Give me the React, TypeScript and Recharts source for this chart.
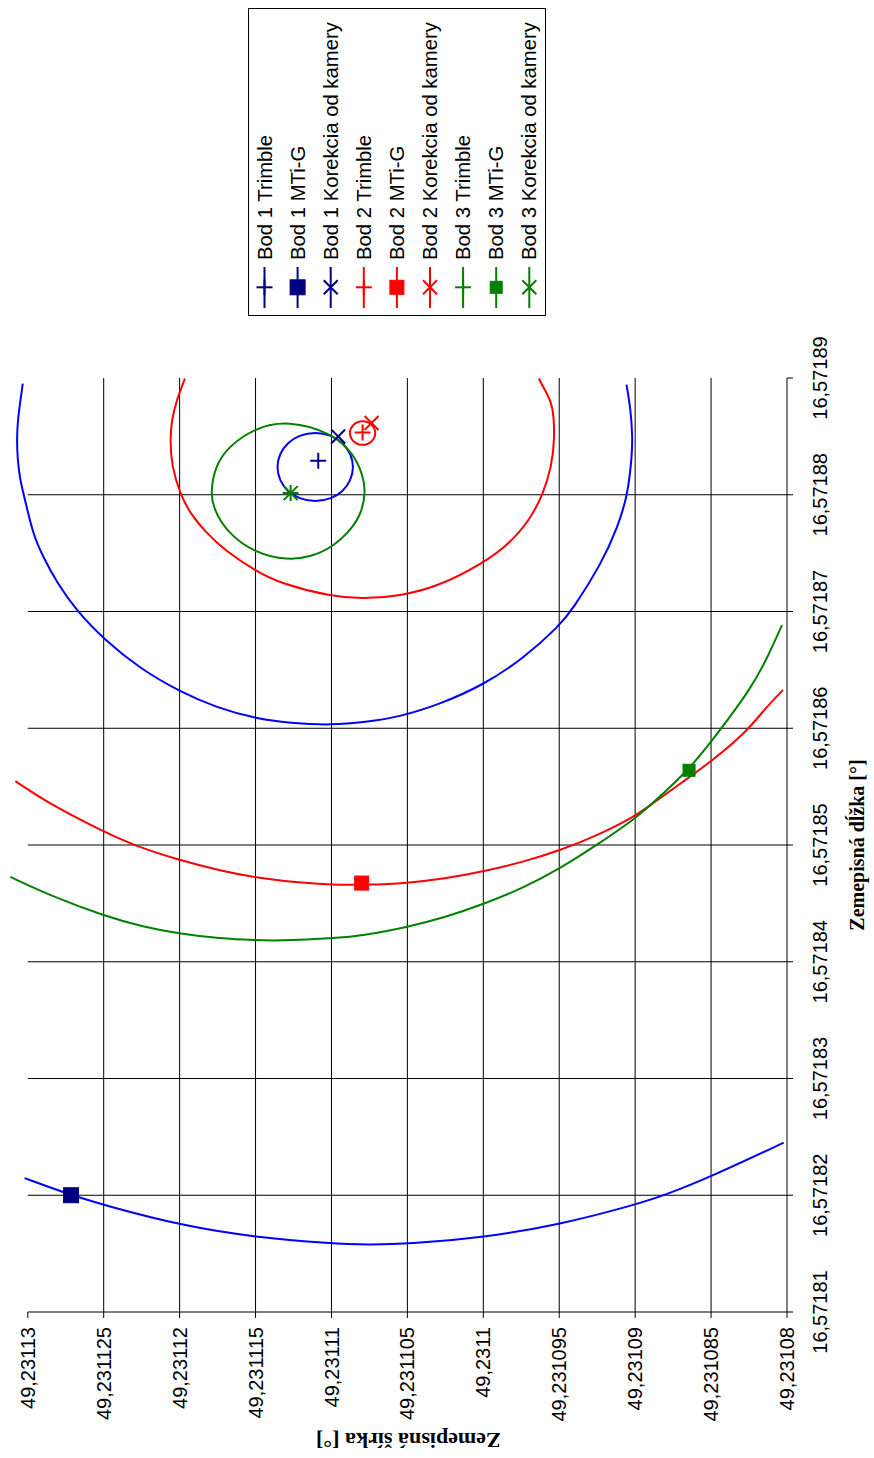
import React from 'react';
import { ComposedChart, Line, Scatter, XAxis, YAxis, ReferenceLine, Legend } from 'recharts';

// ---------- axis ticks ----------
const lonTicks = [16.57181, 16.57182, 16.57183, 16.57184, 16.57185, 16.57186, 16.57187, 16.57188, 16.57189];
const latTicks = [49.23108, 49.231085, 49.23109, 49.231095, 49.2311, 49.231105, 49.23111, 49.231115, 49.23112, 49.231125, 49.23113];
const lonGrid = [16.57182, 16.57183, 16.57184, 16.57185, 16.57186, 16.57187, 16.57188];
const latGrid = [49.231085, 49.23109, 49.231095, 49.2311, 49.231105, 49.23111, 49.231115, 49.23112, 49.231125];
const lonDomain = [16.57181, 16.57189];
const latDomain = [49.23108, 49.2311315];
const latFrame = [49.23108, 49.23113];

// ---------- curves ----------
const bod1ArcNorth = [
  { lon: 16.57188951, lat: 49.23113033 },
  { lon: 16.57188642, lat: 49.23113067 },
  { lon: 16.57188471, lat: 49.23113072 },
  { lon: 16.57188299, lat: 49.23113067 },
  { lon: 16.57188128, lat: 49.23113051 },
  { lon: 16.57187956, lat: 49.23113018 },
  { lon: 16.5718766, lat: 49.23112965 },
  { lon: 16.57187467, lat: 49.23112899 },
  { lon: 16.57187244, lat: 49.23112807 },
  { lon: 16.57187004, lat: 49.23112678 },
  { lon: 16.57186755, lat: 49.23112493 },
  { lon: 16.57186511, lat: 49.23112261 },
  { lon: 16.57186312, lat: 49.23111996 },
  { lon: 16.57186176, lat: 49.23111756 },
  { lon: 16.57186084, lat: 49.23111499 },
  { lon: 16.57186044, lat: 49.23111273 },
  { lon: 16.57186026, lat: 49.23110999 },
  { lon: 16.57186052, lat: 49.23110778 },
  { lon: 16.57186098, lat: 49.23110549 },
  { lon: 16.57186206, lat: 49.23110286 },
  { lon: 16.57186369, lat: 49.23110001 },
  { lon: 16.57186605, lat: 49.23109727 },
  { lon: 16.57186884, lat: 49.23109496 },
  { lon: 16.57187004, lat: 49.23109419 },
  { lon: 16.57187413, lat: 49.2310922 },
  { lon: 16.57187727, lat: 49.23109114 },
  { lon: 16.57188005, lat: 49.23109047 },
  { lon: 16.57188357, lat: 49.2310902 },
  { lon: 16.57188499, lat: 49.23109018 },
  { lon: 16.57188728, lat: 49.23109029 },
  { lon: 16.57188943, lat: 49.23109057 },
];

const bod1ArcSouth = [
  { lon: 16.57182147, lat: 49.23113021 },
  { lon: 16.57182, lat: 49.23112712 },
  { lon: 16.57181914, lat: 49.23112494 },
  { lon: 16.57181742, lat: 49.23111993 },
  { lon: 16.57181639, lat: 49.23111499 },
  { lon: 16.57181586, lat: 49.23110995 },
  { lon: 16.57181576, lat: 49.23110763 },
  { lon: 16.57181582, lat: 49.23110497 },
  { lon: 16.57181639, lat: 49.23109997 },
  { lon: 16.57181748, lat: 49.23109496 },
  { lon: 16.5718192, lat: 49.23108996 },
  { lon: 16.57182, lat: 49.23108805 },
  { lon: 16.57182162, lat: 49.23108496 },
  { lon: 16.5718245, lat: 49.23108022 },
];

const bod1Ring = [
  { lon: 16.57188537, lat: 49.23111107 },
  { lon: 16.57188511, lat: 49.23110999 },
  { lon: 16.57188446, lat: 49.23110925 },
  { lon: 16.57188353, lat: 49.23110872 },
  { lon: 16.57188237, lat: 49.23110852 },
  { lon: 16.57188121, lat: 49.23110872 },
  { lon: 16.57188027, lat: 49.23110925 },
  { lon: 16.57187965, lat: 49.23110999 },
  { lon: 16.57187937, lat: 49.23111107 },
  { lon: 16.57187965, lat: 49.23111214 },
  { lon: 16.57188027, lat: 49.23111289 },
  { lon: 16.57188121, lat: 49.23111342 },
  { lon: 16.57188237, lat: 49.23111362 },
  { lon: 16.57188353, lat: 49.23111342 },
  { lon: 16.57188446, lat: 49.23111289 },
  { lon: 16.57188511, lat: 49.23111214 },
];

const bod2ArcNorth = [
  { lon: 16.57188995, lat: 49.23111965 },
  { lon: 16.57188814, lat: 49.23112019 },
  { lon: 16.57188642, lat: 49.23112052 },
  { lon: 16.57188471, lat: 49.23112063 },
  { lon: 16.57188242, lat: 49.23112052 },
  { lon: 16.57188005, lat: 49.23111996 },
  { lon: 16.57187842, lat: 49.23111932 },
  { lon: 16.57187671, lat: 49.23111822 },
  { lon: 16.57187527, lat: 49.23111705 },
  { lon: 16.57187347, lat: 49.23111499 },
  { lon: 16.57187242, lat: 49.23111339 },
  { lon: 16.57187127, lat: 49.23110999 },
  { lon: 16.57187107, lat: 49.23110791 },
  { lon: 16.57187133, lat: 49.23110549 },
  { lon: 16.57187213, lat: 49.23110299 },
  { lon: 16.57187413, lat: 49.23110001 },
  { lon: 16.57187585, lat: 49.23109825 },
  { lon: 16.57187785, lat: 49.23109694 },
  { lon: 16.57188005, lat: 49.23109606 },
  { lon: 16.57188242, lat: 49.23109551 },
  { lon: 16.57188471, lat: 49.23109529 },
  { lon: 16.5718877, lat: 49.2310954 },
  { lon: 16.57188871, lat: 49.23109584 },
  { lon: 16.57188995, lat: 49.23109634 },
];

const bod2ArcSouth = [
  { lon: 16.57185547, lat: 49.23113082 },
  { lon: 16.57185344, lat: 49.23112847 },
  { lon: 16.5718511, lat: 49.23112494 },
  { lon: 16.57184992, lat: 49.23112292 },
  { lon: 16.57184867, lat: 49.23111993 },
  { lon: 16.57184783, lat: 49.23111738 },
  { lon: 16.5718472, lat: 49.23111499 },
  { lon: 16.5718468, lat: 49.23111234 },
  { lon: 16.57184658, lat: 49.23110995 },
  { lon: 16.57184658, lat: 49.2311078 },
  { lon: 16.57184674, lat: 49.23110497 },
  { lon: 16.57184711, lat: 49.2311026 },
  { lon: 16.57184773, lat: 49.23109997 },
  { lon: 16.57184861, lat: 49.23109721 },
  { lon: 16.57184954, lat: 49.23109496 },
  { lon: 16.57185079, lat: 49.23109251 },
  { lon: 16.5718525, lat: 49.23108996 },
  { lon: 16.57185344, lat: 49.23108898 },
  { lon: 16.57185547, lat: 49.2310868 },
  { lon: 16.57185718, lat: 49.23108496 },
  { lon: 16.57185977, lat: 49.2310826 },
  { lon: 16.57186183, lat: 49.23108136 },
  { lon: 16.57186327, lat: 49.23108026 },
];

const bod2Ring = [
  { lon: 16.5718864, lat: 49.23110795 },
  { lon: 16.57188607, lat: 49.2311073 },
  { lon: 16.57188528, lat: 49.23110703 },
  { lon: 16.57188449, lat: 49.2311073 },
  { lon: 16.57188417, lat: 49.23110795 },
  { lon: 16.57188449, lat: 49.2311086 },
  { lon: 16.57188528, lat: 49.23110887 },
  { lon: 16.57188607, lat: 49.2311086 },
];

const bod3ArcSouth = [
  { lon: 16.57184727, lat: 49.23113115 },
  { lon: 16.57184564, lat: 49.23112847 },
  { lon: 16.57184392, lat: 49.23112494 },
  { lon: 16.57184299, lat: 49.23112241 },
  { lon: 16.57184237, lat: 49.23111993 },
  { lon: 16.57184199, lat: 49.23111738 },
  { lon: 16.57184184, lat: 49.23111499 },
  { lon: 16.5718418, lat: 49.23111351 },
  { lon: 16.57184199, lat: 49.23110995 },
  { lon: 16.5718423, lat: 49.23110763 },
  { lon: 16.57184299, lat: 49.23110497 },
  { lon: 16.57184377, lat: 49.2311026 },
  { lon: 16.57184493, lat: 49.23109997 },
  { lon: 16.57184642, lat: 49.23109721 },
  { lon: 16.57184798, lat: 49.23109496 },
  { lon: 16.57185001, lat: 49.23109251 },
  { lon: 16.57185229, lat: 49.23108996 },
  { lon: 16.57185344, lat: 49.23108898 },
  { lon: 16.5718564, lat: 49.23108646 },
  { lon: 16.57185977, lat: 49.23108444 },
  { lon: 16.57186327, lat: 49.23108245 },
  { lon: 16.57186584, lat: 49.23108136 },
  { lon: 16.57186884, lat: 49.23108033 },
];

const bod3Ring = [
  { lon: 16.57188636, lat: 49.23111287 },
  { lon: 16.57188531, lat: 49.23110999 },
  { lon: 16.57188357, lat: 49.23110857 },
  { lon: 16.57188171, lat: 49.23110793 },
  { lon: 16.57188027, lat: 49.23110775 },
  { lon: 16.57187853, lat: 49.231108 },
  { lon: 16.57187716, lat: 49.23110859 },
  { lon: 16.57187542, lat: 49.23110999 },
  { lon: 16.57187467, lat: 49.23111142 },
  { lon: 16.57187439, lat: 49.23111287 },
  { lon: 16.57187497, lat: 49.23111499 },
  { lon: 16.57187677, lat: 49.2311169 },
  { lon: 16.57187888, lat: 49.2311178 },
  { lon: 16.57188027, lat: 49.23111795 },
  { lon: 16.57188239, lat: 49.23111767 },
  { lon: 16.57188411, lat: 49.23111682 },
  { lon: 16.57188576, lat: 49.23111499 },
];

// ---------- measured points ----------
const bod1Trimble = [{ lon: 16.57188291, lat: 49.23111087 }];
const bod1MtiG = [{ lon: 16.57182, lat: 49.23112715 }];
const bod1Korekcia = [{ lon: 16.57188499, lat: 49.23110956 }];
const bod2Trimble = [{ lon: 16.57188534, lat: 49.23110795 }];
const bod2MtiG = [{ lon: 16.57184674, lat: 49.23110801 }];
const bod2Korekcia = [{ lon: 16.57188614, lat: 49.23110736 }];
const bod3Trimble = [{ lon: 16.57188014, lat: 49.23111269 }];
const bod3MtiG = [{ lon: 16.5718564, lat: 49.23108645 }];
const bod3Korekcia = [{ lon: 16.57188014, lat: 49.23111269 }];

const NAVY = '#000080';
const RED = '#FF0000';
const GREEN = '#008000';
const BLUE = '#0000FF';

type Kind = 'plus' | 'square' | 'cross';

const pointSeries: { name: string; data: { lon: number; lat: number }[]; color: string; kind: Kind; size: number }[] = [
  { name: 'Bod 1 Trimble', data: bod1Trimble, color: NAVY, kind: 'plus', size: 16 },
  { name: 'Bod 1 MTi-G', data: bod1MtiG, color: NAVY, kind: 'square', size: 15 },
  { name: 'Bod 1 Korekcia od kamery', data: bod1Korekcia, color: NAVY, kind: 'cross', size: 14 },
  { name: 'Bod 2 Trimble', data: bod2Trimble, color: RED, kind: 'plus', size: 16 },
  { name: 'Bod 2 MTi-G', data: bod2MtiG, color: RED, kind: 'square', size: 14 },
  { name: 'Bod 2 Korekcia od kamery', data: bod2Korekcia, color: RED, kind: 'cross', size: 14 },
  { name: 'Bod 3 Trimble', data: bod3Trimble, color: GREEN, kind: 'plus', size: 16 },
  { name: 'Bod 3 MTi-G', data: bod3MtiG, color: GREEN, kind: 'square', size: 12 },
  { name: 'Bod 3 Korekcia od kamery', data: bod3Korekcia, color: GREEN, kind: 'cross', size: 14 },
];

const curves: { key: string; data: { lon: number; lat: number }[]; color: string; closed: boolean }[] = [
  { key: 'b1n', data: bod1ArcNorth, color: BLUE, closed: false },
  { key: 'b1s', data: bod1ArcSouth, color: BLUE, closed: false },
  { key: 'b1r', data: bod1Ring, color: BLUE, closed: true },
  { key: 'b2n', data: bod2ArcNorth, color: RED, closed: false },
  { key: 'b2s', data: bod2ArcSouth, color: RED, closed: false },
  { key: 'b2r', data: bod2Ring, color: RED, closed: true },
  { key: 'b3s', data: bod3ArcSouth, color: GREEN, closed: false },
  { key: 'b3r', data: bod3Ring, color: GREEN, closed: true },
];

const SANS = '"Liberation Sans", Arial, sans-serif';
const SERIF = '"Liberation Serif", "Times New Roman", serif';
const fmt = (v: number) => String(v).replace('.', ',');

function Glyph({ cx, cy, kind, color, size }: { cx: number; cy: number; kind: Kind; color: string; size: number }) {
  const h = size / 2;
  if (kind === 'square') {
    return <rect x={cx - h} y={cy - h} width={size} height={size} fill={color} stroke={color} strokeWidth={1} />;
  }
  if (kind === 'plus') {
    return (
      <g stroke={color} strokeWidth={2}>
        <line x1={cx - h} y1={cy} x2={cx + h} y2={cy} />
        <line x1={cx} y1={cy - h} x2={cx} y2={cy + h} />
      </g>
    );
  }
  return (
    <g stroke={color} strokeWidth={2}>
      <line x1={cx - h} y1={cy - h} x2={cx + h} y2={cy + h} />
      <line x1={cx - h} y1={cy + h} x2={cx + h} y2={cy - h} />
    </g>
  );
}

function LegendBox(props: any) {
  const payload: any[] = props.payload || [];
  const names = new Set(payload.map((e: any) => e.value));
  const rows = pointSeries.filter((s) => names.size === 0 || names.has(s.name));
  return (
    <div style={{ width: 308, height: 298, border: '1px solid #000', boxSizing: 'border-box', background: '#fff' }}>
      <svg width={306} height={296} style={{ display: 'block' }}>
        {rows.map((st, i) => {
          const cy = 15.5 + 33.1 * i;
          return (
            <g key={st.name}>
              <line x1={7} x2={48} y1={cy} y2={cy} stroke={st.color} strokeWidth={2} />
              <Glyph cx={27.7} cy={cy} kind={st.kind} color={st.color} size={st.size} />
              <text x={55} y={cy} dy={7} fontSize={20.3} fontFamily={SANS} fill="#000">
                {st.name}
              </text>
            </g>
          );
        })}
      </svg>
    </div>
  );
}

const XTitle = (props: any) => {
  const vb = props.viewBox || { x: 0, y: 0, width: 0, height: 0 };
  return (
    <text x={vb.x + vb.width / 2} y={vb.y + 77} textAnchor="middle" fontFamily={SERIF} fontWeight="bold" fontSize={20} fill="#000">
      Zemepisná dĺžka [°]
    </text>
  );
};

const YTitle = (props: any) => {
  const vb = props.viewBox || { x: 0, y: 0, width: 0, height: 0 };
  const mid = (latFrame[0] + latFrame[1]) / 2;
  const cy = vb.y + (vb.height * (latDomain[1] - mid)) / (latDomain[1] - latDomain[0]) + 1;
  const x = 25;
  return (
    <text x={x} y={cy} transform={`rotate(-90 ${x} ${cy})`} textAnchor="middle" fontFamily={SERIF} fontWeight="bold" fontSize={22} fill="#000">
      Zemepisná šírka [°]
    </text>
  );
};

export default function App() {
  return (
    <div style={{ position: 'fixed', left: 0, top: 0, width: 874, height: 1458, overflow: 'hidden', background: '#fff' }}>
      <div
        style={{
          position: 'absolute',
          left: 0,
          top: 0,
          width: 1458,
          height: 874,
          transformOrigin: '0 0',
          transform: 'translateY(1458px) rotate(-90deg)',
        }}
      >
        <ComposedChart width={1458} height={874} margin={{ top: 5, right: 378, bottom: 27, left: 0 }}>
          <XAxis
            type="number"
            dataKey="lon"
            domain={lonDomain}
            ticks={lonTicks}
            interval={0}
            allowDataOverflow
            height={60}
            tickSize={6}
            tickMargin={20}
            tickFormatter={fmt}
            tick={{ fontSize: 20, fontFamily: SANS, fill: '#000' }}
            stroke="#000"
            axisLine={{ stroke: '#000' }}
            tickLine={{ stroke: '#000' }}
            label={<XTitle />}
          />
          <YAxis
            type="number"
            dataKey="lat"
            domain={latDomain}
            ticks={latTicks}
            interval={0}
            allowDataOverflow
            width={146}
            tickSize={6}
            tickMargin={9}
            tickFormatter={fmt}
            tick={{ fontSize: 20, fontFamily: SANS, fill: '#000' }}
            axisLine={false}
            tickLine={{ stroke: '#000' }}
            label={<YTitle />}
          />
          {latGrid.map((v) => (
            <ReferenceLine key={'lg' + v} y={v} stroke="#000" strokeWidth={1} />
          ))}
          {lonGrid.map((v) => (
            <ReferenceLine
              key={'og' + v}
              segment={[
                { x: v, y: latFrame[0] },
                { x: v, y: latFrame[1] },
              ]}
              stroke="#000"
              strokeWidth={1}
            />
          ))}
          <ReferenceLine
            segment={[
              { x: lonDomain[0], y: latFrame[0] },
              { x: lonDomain[0], y: latFrame[1] },
            ]}
            stroke="#000"
            strokeWidth={1}
          />
          {curves.map((c) => (
            <Line
              key={c.key}
              data={c.data}
              dataKey="lat"
              type={c.closed ? 'basisClosed' : 'basis'}
              stroke={c.color}
              strokeWidth={2}
              dot={false}
              activeDot={false}
              legendType="none"
              isAnimationActive={false}
            />
          ))}
          {pointSeries.map((s) => (
            <Scatter
              key={s.name}
              name={s.name}
              data={s.data}
              fill={s.color}
              isAnimationActive={false}
              shape={(p: any) => <Glyph cx={p.cx} cy={p.cy} kind={s.kind} color={s.color} size={s.size} />}
            />
          ))}
          <Legend
            layout="horizontal"
            align="center"
            verticalAlign="middle"
            content={(p: any) => <LegendBox {...p} />}
            wrapperStyle={{ left: 1142, top: 248, width: 308, height: 298 }}
          />
        </ComposedChart>
      </div>
    </div>
  );
}
